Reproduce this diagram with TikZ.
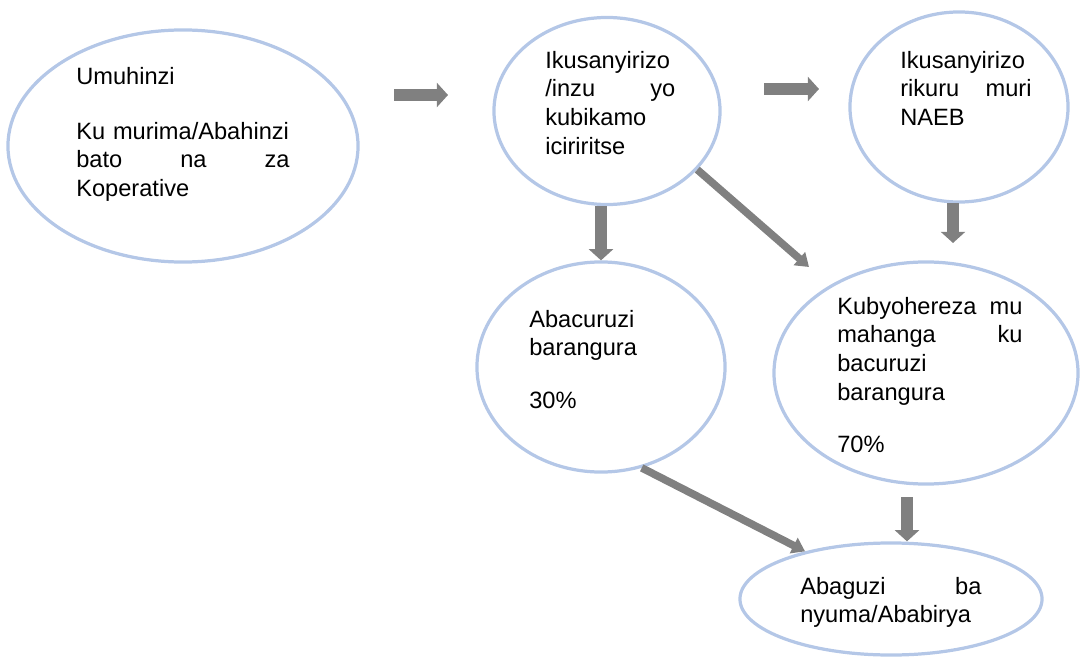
\documentclass[tikz,border=0pt]{standalone}
\usepackage{fontspec}
\setmainfont{Liberation Sans}
\usepackage{tikz}
\definecolor{bubble}{RGB}{180,199,231}
\definecolor{arrowgray}{RGB}{128,128,128}
\usetikzlibrary{shapes.geometric}
\usetikzlibrary{arrows.meta}
\usetikzlibrary{calc}

\begin{document}
\begin{tikzpicture}[x=0.025cm, y=-0.025cm,
    oval/.style={ellipse, draw=bubble, line width=2.3pt},
    txt/.style={anchor=north west, inner sep=0pt, align=left, font=\fontsize{16.8}{20.3}\selectfont},
    fat/.style={draw=arrowgray, line width=0.3cm, -{Triangle[width=0.6cm, length=0.28cm]}},
    slim/.style={draw=arrowgray, line width=0.19cm, -{Triangle[width=0.42cm, length=0.32cm]}}]
\useasboundingbox (0,0) rectangle (1080,657);

\node(umuhinzi)[oval, minimum width=8.75cm, minimum height=5.8cm] at (183,146) {};
\node(ikusanyirizo)[oval, minimum width=5.65cm, minimum height=4.675cm] at (607,111) {};
\node(naeb)[oval, minimum width=5.45cm, minimum height=4.75cm] at (959,107) {};
\node(abacuruzi)[oval, minimum width=6.2cm, minimum height=5.25cm] at (601,367) {};
\node(kubyohereza)[oval, minimum width=7.6cm, minimum height=5.55cm] at (926,373) {};
\node(abaguzi)[oval, minimum width=7.55cm, minimum height=2.8cm] at (891,599) {};

\node(umuhinziText)[txt, text width=5.33cm] at (76,67) {Umuhinzi\\[0.66cm] Ku murima/Abahinzi\\ bato \hfill na \hfill za\\ Koperative};
\node(ikusanyiriziText)[txt, text width=3.25cm] at (545,51) {Ikusanyirizo\\ /inzu \hfill yo\\ kubikamo\\ iciriritse};
\node(naebText)[txt, text width=3.28cm] at (900,51) {Ikusanyirizo\\ rikuru \hfill muri\\ NAEB};
\node(abacuruziText)[txt, text width=4cm] at (529,310) {Abacuruzi\\ barangura\\[0.6cm] 30\%};
\node(kubyoherezaText)[txt, text width=4.63cm] at (837,297) {Kubyohereza \hfill mu\\ mahanga \hfill ku\\ bacuruzi\\ barangura\\[0.6cm] 70\%};
\node(abaguziText)[txt, text width=4.53cm] at (800,577) {Abaguzi \hfill ba\\ nyuma/Ababirya};

\coordinate (h1) at (394,95);
\coordinate (h2) at (764,89);
\coordinate (d1) at (809,267);
\coordinate (d2) at (953,203);
\coordinate (d3) at (907,497);

\draw[fat] (h1) -- ++(54,0);
\draw[fat] (h2) -- ++(55,0);
\draw[fat] (abacuruzi.north |- ikusanyirizo.south) -- (abacuruzi.north);
\draw[fat] (d2) -- ++(0,40);
\draw[slim] (ikusanyirizo.-33) -- (d1);
\draw[slim] (abacuruzi.-68) -- (abaguzi.151);
\draw[fat] (d3) -- (d3 |- abaguzi.north);
\end{tikzpicture}
\end{document}
